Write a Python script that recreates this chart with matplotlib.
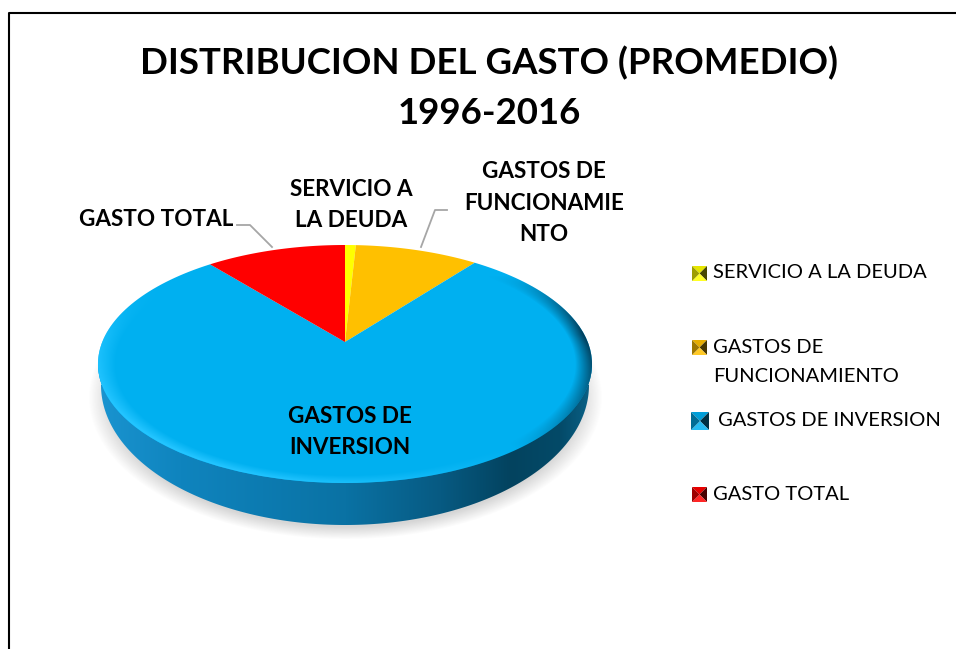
import numpy as np
import matplotlib
matplotlib.use("Agg")
import matplotlib.pyplot as plt
from matplotlib.patches import Polygon, Ellipse

plt.rcParams['font.family'] = ['Lato', 'DejaVu Sans']

title_text = "DISTRIBUCION DEL GASTO (PROMEDIO)\n1996-2016"
names = ["SERVICIO A LA DEUDA", "GASTOS DE\nFUNCIONAMIENTO", "GASTOS DE INVERSION", "GASTO TOTAL"]
values = [0.7, 8.1, 82.0, 9.2]
colors = ["#FFFF00", "#FFC000", "#00B0F0", "#FF0000"]

cx, cy, rx, ry = 345, 364, 247, 119
apex_y = 342
base_cy, base_rx, base_ry = 385, 244, 140


def ellipse_points(start, stop, n=200):
    t = np.radians(np.linspace(start, stop, n))
    return cx + rx * np.sin(t), cy - ry * np.cos(t)


def shade(color, k):
    rgb = np.array(matplotlib.colors.to_rgb(color))
    if k < 1:
        return tuple(rgb * k)
    return tuple(rgb + (1 - rgb) * (k - 1))


fig = plt.figure(figsize=(9.56, 6.49), dpi=100)
ax = fig.add_axes([0, 0, 1, 1])
ax.axis("off")

# frame
ax.plot([9, 9, 956], [649, 13, 13], color="black", lw=1.5, zorder=1)

# soft shadow under the pie
yy, xx = np.mgrid[340:560, 70:620]
r = np.sqrt(((xx - cx) / 257) ** 2 + ((yy - 397) / 142) ** 2)
alpha = np.clip((1.0 - r) / 0.09, 0, 1) * 0.36
img = np.zeros(xx.shape + (4,))
img[..., :3] = 0.55
img[..., 3] = alpha
ax.imshow(img, extent=(70, 620, 560, 340), aspect="auto", zorder=2)

# side wall of the pie
lx, ly = ellipse_points(-90, -270)
t = np.radians(np.linspace(90, 270, 200))
bx = cx + base_rx * np.sin(t)
by = base_cy - base_ry * np.cos(t)
side = Polygon(np.r_[np.c_[lx, ly], np.c_[bx[::-1], by[::-1]]], closed=True,
               fc="none", ec="none", zorder=3)
ax.add_patch(side)
stops_x = [98, 180, 345, 440, 510, 560, 591]
stops_rgb = np.array([matplotlib.colors.to_rgb(c) for c in
                      ["#1A94D0", "#0F84BE", "#0A72A4", "#075A82", "#03435F", "#044A68", "#0A6288"]])
gx = np.arange(95, 595)
grad = np.stack([np.interp(gx, stops_x, stops_rgb[:, i]) for i in range(3)], axis=-1)[None, :, :]
side_img = ax.imshow(grad, extent=(95, 595, 540, 340), aspect="auto", zorder=3)
side_img.set_clip_path(side)

# slices on the top face
start = 0
for value, color in zip(values, colors):
    stop = start + value * 3.6
    ex, ey = ellipse_points(start, stop)
    ax.add_patch(Polygon(np.r_[[[cx, apex_y]], np.c_[ex, ey]], closed=True, fc=color, ec="none", zorder=4))
    start = stop

# bevel on the rim of the top face
yy, xx = np.mgrid[240:490, 95:595]
u, v = (xx - cx) / rx, (yy - cy) / ry
r = np.sqrt(u ** 2 + v ** 2) + 1e-6
band = np.clip((r - 0.93) / 0.07, 0, 1)
light = (-0.72 * u + 0.7 * v) / r
fade = np.clip((v + 0.75) / 0.5, 0, 1)
bevel = np.zeros(xx.shape + (4,))
bright = light > 0
bevel[bright, :3] = matplotlib.colors.to_rgb("#22C4FF")
bevel[~bright, :3] = matplotlib.colors.to_rgb("#023C58")
bevel[..., 3] = np.clip(band * np.abs(light) * fade * 1.2, 0, 1)
face = Ellipse((cx, cy), 2 * rx, 2 * ry, fc="none", ec="none", zorder=5)
ax.add_patch(face)
bevel_img = ax.imshow(bevel, extent=(95, 595, 490, 240), aspect="auto", zorder=5)
bevel_img.set_clip_path(face)

# leader lines
ax.plot([237, 250, 272], [225, 225, 247], color="#A6A6A6", lw=1.3, zorder=6)
ax.plot([447, 435, 421], [210, 210, 247], color="#A6A6A6", lw=1.3, zorder=6)

# title and labels
ax.text(489, 88, title_text, ha="center", va="center", fontsize=26.4, fontweight="bold",
        linespacing=1.6, zorder=7)
ax.text(351, 205, "SERVICIO A\nLA DEUDA", ha="center", va="center", fontsize=16.2,
        fontweight="bold", linespacing=1.64, zorder=7)
ax.text(544, 203, "GASTOS DE\nFUNCIONAMIE\nNTO", ha="center", va="center", fontsize=16.2,
        fontweight="bold", linespacing=1.64, zorder=7)
ax.text(156, 220, "GASTO TOTAL", ha="center", va="center", fontsize=16.2,
        fontweight="bold", zorder=7)
ax.text(350, 432, "GASTOS DE\nINVERSION", ha="center", va="center", fontsize=16.2,
        fontweight="bold", linespacing=1.64, zorder=7)

# legend with bevelled keys
key_boxes = [(692, 266, 15), (692, 340, 15), (691, 412, 18), (692, 487, 15)]
text_pos = [(713, 273), (713, 362), (718, 421), (713, 495)]
for name, color, (kx, ky, ks), (tx, ty) in zip(names, colors, key_boxes, text_pos):
    mid = (kx + ks / 2, ky + ks / 2)
    corners = [(kx, ky), (kx + ks, ky), (kx + ks, ky + ks), (kx, ky + ks)]
    tones = [0.9, 0.28, 1.15, 0.62]
    for i, tone in enumerate(tones):
        tri = [corners[i], corners[(i + 1) % 4], mid]
        ax.add_patch(Polygon(tri, closed=True, fc=shade(color, tone), ec="none", zorder=7))
    ax.text(tx, ty, name, ha="left", va="center", fontsize=14.5, linespacing=1.8, zorder=7)

ax.set_xlim(0, 956)
ax.set_ylim(649, 0)
fig.savefig("out.png", dpi=100)
